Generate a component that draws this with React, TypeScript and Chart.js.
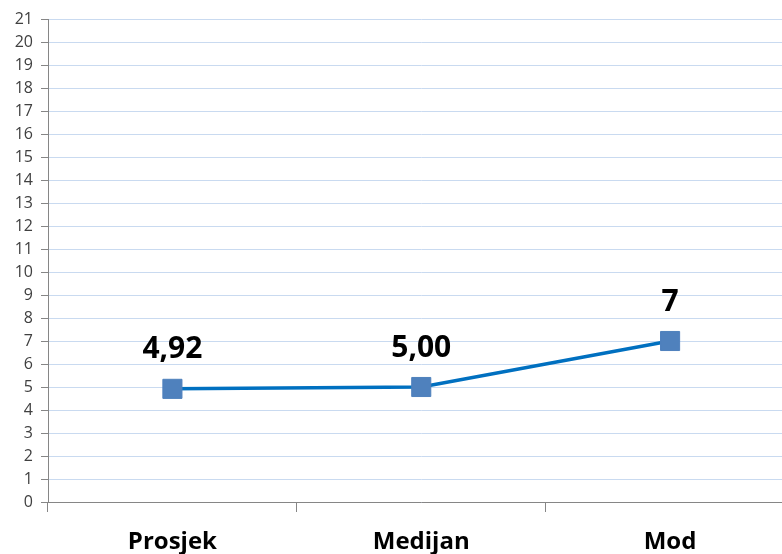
import React, { useEffect, useRef } from "react";
import { Chart, registerables } from "chart.js";

Chart.register(...registerables);

const categories = ["Prosjek", "Medijan", "Mod"];
const values = [4.92, 5.0, 7];
const valueLabels = ["4,92", "5,00", "7"];

const dataLabelPlugin = {
  id: "dataLabels",
  afterDatasetsDraw(chart: any) {
    const ctx = chart.ctx;
    const meta = chart.getDatasetMeta(0);
    ctx.save();
    ctx.font = "bold 30px 'Open Sans'";
    ctx.fillStyle = "#000000";
    ctx.textAlign = "center";
    ctx.textBaseline = "middle";
    meta.data.forEach((pt: any, i: number) => {
      ctx.fillText(valueLabels[i], pt.x, pt.y - 39);
    });
    ctx.restore();
  },
};

export default function App() {
  const ref = useRef<HTMLCanvasElement | null>(null);
  useEffect(() => {
    if (!ref.current) return;
    const chart = new Chart(ref.current, {
      type: "line",
      data: {
        labels: categories,
        datasets: [
          {
            data: values,
            borderColor: "#0070C0",
            borderWidth: 3.5,
            pointStyle: "rect",
            pointRadius: 13.5,
            pointBackgroundColor: "#4F81BD",
            pointBorderColor: "#4F81BD",
            pointBorderWidth: 1,
            tension: 0,
          },
        ],
      },
      options: {
        responsive: false,
        animation: false,
        layout: { padding: { top: 19, right: 5, left: 0, bottom: 0 } },
        plugins: { legend: { display: false }, tooltip: { enabled: false } },
        scales: {
          x: {
            offset: true,
            grid: {
              offset: true,
              drawOnChartArea: false,
              drawTicks: true,
              tickLength: 10,
              tickColor: "#868686",
              tickWidth: 1,
            },
            border: { color: "#868686", width: 1 },
            ticks: {
              color: "#000000",
              font: { family: "'Open Sans'", size: 24, weight: "bold" },
              padding: 16,
            },
            afterFit(scale: any) {
              scale.height = 52;
            },
          },
          y: {
            min: 0,
            max: 21,
            grid: {
              color: "#C9DAF0",
              borderDash: [2, 2],
              tickColor: "#868686",
              tickLength: 7,
              tickBorderDash: [],
            } as any,
            border: { color: "#868686", width: 1, dash: [] },
            ticks: {
              stepSize: 1,
              color: "#404040",
              font: { family: "'Open Sans'", size: 16 },
              padding: 8,
            },
            afterFit(scale: any) {
              scale.width = 48;
            },
          },
        },
      },
      plugins: [dataLabelPlugin],
    });
    return () => chart.destroy();
  }, []);
  return (
    <div
      style={{
        position: "absolute",
        left: 0,
        top: 0,
        width: 782,
        height: 554,
        overflow: "hidden",
        background: "#ffffff",
      }}
    >
      <canvas ref={ref} width={809} height={554} style={{ display: "block" }} />
    </div>
  );
}
